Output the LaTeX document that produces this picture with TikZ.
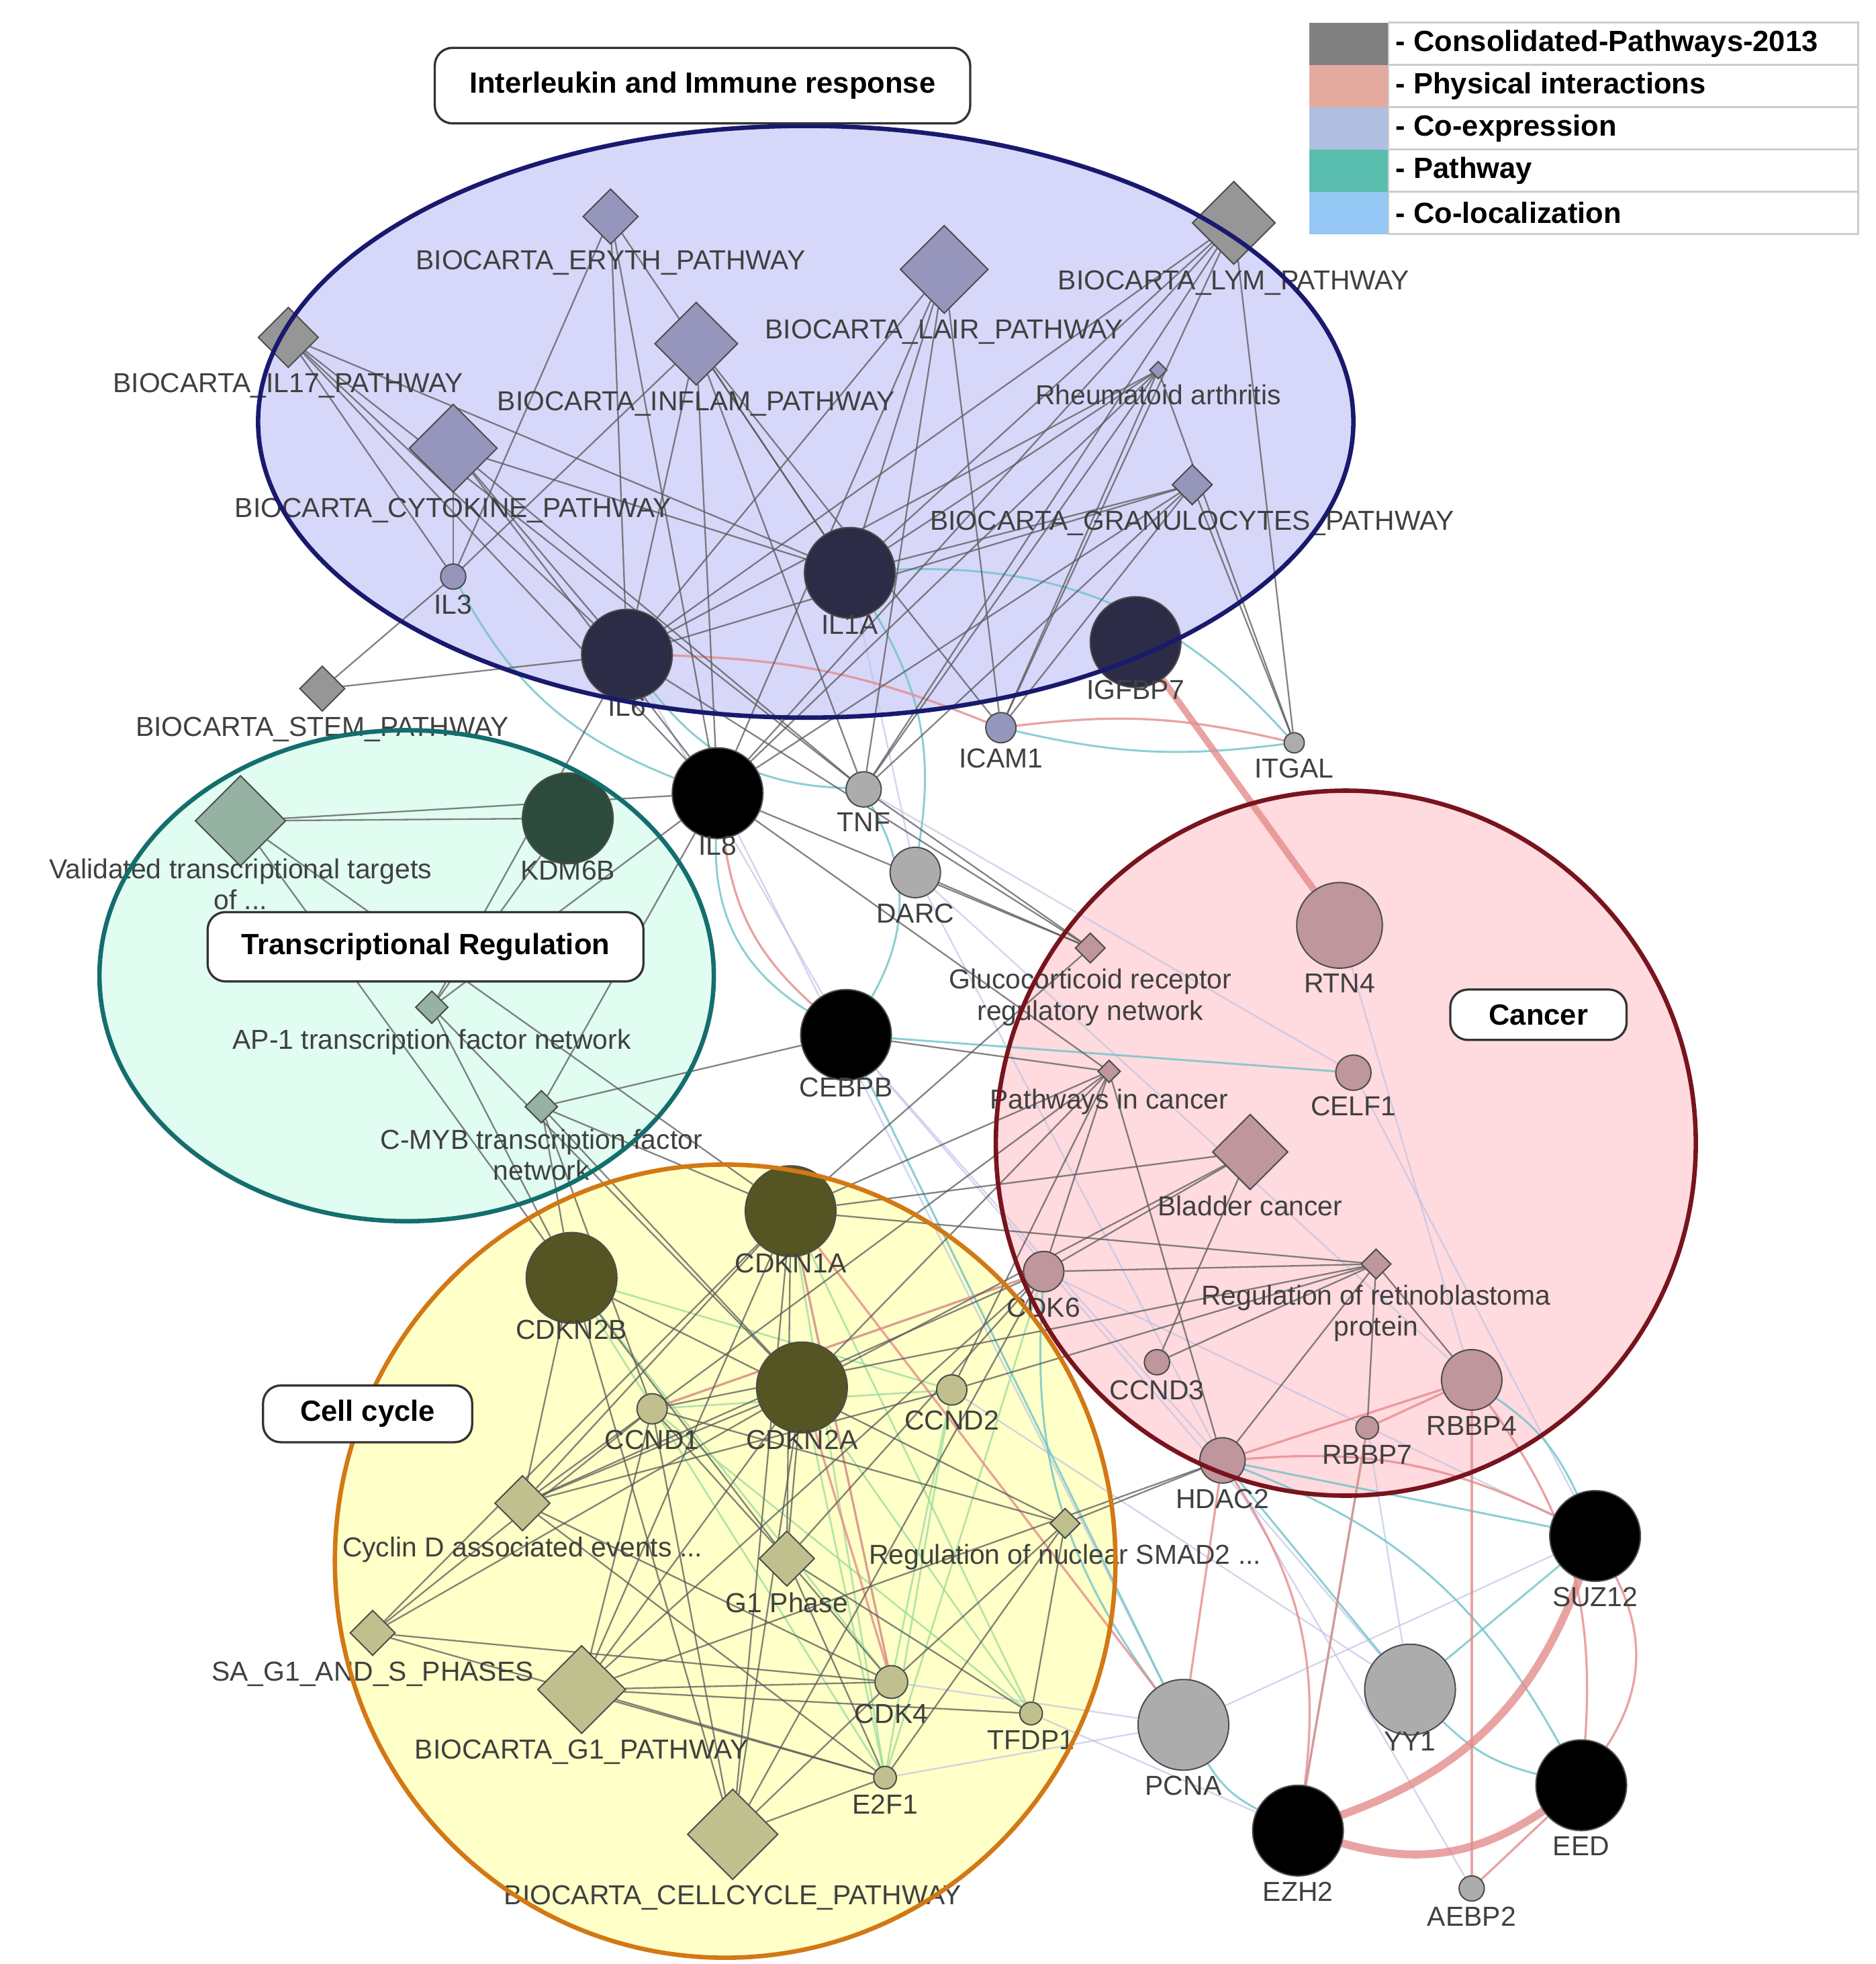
\documentclass[tikz,border=0pt]{standalone}
\usepackage{fontspec}
\setmainfont{Liberation Sans}
\usetikzlibrary{shapes.geometric}
\pgfdeclarelayer{fills}
\pgfdeclarelayer{links}
\pgfsetlayers{fills,links,main}
\definecolor{cNavy}{RGB}{44,44,70}
\definecolor{cLav}{RGB}{150,150,188}
\definecolor{cGray}{RGB}{150,150,150}
\definecolor{cLight}{RGB}{172,172,172}
\definecolor{cKdm}{RGB}{45,75,60}
\definecolor{cMint}{RGB}{150,178,162}
\definecolor{cOlive}{RGB}{85,85,35}
\definecolor{cKhaki}{RGB}{192,192,142}
\definecolor{cRose}{RGB}{190,150,155}
\definecolor{cPink}{RGB}{228,140,140}
\definecolor{cTeal}{RGB}{110,195,200}
\definecolor{cGreen}{RGB}{160,220,160}
\definecolor{cCoex}{RGB}{190,195,230}
\definecolor{lgCons}{RGB}{128,128,128}
\definecolor{lgPhys}{RGB}{228,170,160}
\definecolor{lgCoex}{RGB}{176,190,225}
\definecolor{lgPway}{RGB}{90,190,175}
\definecolor{lgColoc}{RGB}{150,200,245}
\definecolor{eImmune}{RGB}{25,25,110}
\definecolor{eTrans}{RGB}{20,110,110}
\definecolor{eCell}{RGB}{210,120,20}
\definecolor{eCancer}{RGB}{120,20,30}
\definecolor{fImmune}{RGB}{215,215,250}
\definecolor{fTrans}{RGB}{225,252,240}
\definecolor{fCell}{RGB}{255,255,200}
\definecolor{fCancer}{RGB}{255,218,222}
\newcommand{\lbl}{\fontsize{6.2}{7}\selectfont}
\tikzstyle{gene}=[circle, draw=black!70, line width=0.3pt, inner sep=0pt]
\tikzstyle{pw}=[diamond, draw=black!70, line width=0.3pt, inner sep=0pt]
\tikzstyle{tag}=[draw=black!80, fill=white, rounded corners=4pt, line width=0.5pt, font=\fontsize{6.6}{8}\bfseries\selectfont]
\providecommand{\gene}{\node[gene]}
\providecommand{\pw}{\node[pw]}
\begin{document}
\begin{tikzpicture}[x=0.01cm, y=-0.01cm,
    every label/.style={font=\lbl, text=black!75, inner sep=1pt, align=center},
    label distance=0pt,
    grey/.style={draw=black!65, line width=0.35pt, opacity=0.75},
    phys/.style={draw=cPink, line width=0.5pt, opacity=0.8},
    coloc/.style={draw=cTeal, line width=0.45pt, opacity=0.8},
    coex/.style={draw=cCoex, line width=0.35pt, opacity=0.7},
    pway/.style={draw=cGreen, line width=0.4pt, opacity=0.8}
]
\useasboundingbox (0,0) rectangle (1490,1560);
% group fills
\begin{pgfonlayer}{fills}
\fill[fImmune] (640,335) ellipse [x radius=435, y radius=235];
\fill[fTrans] (323,775) ellipse [x radius=244, y radius=195];
\fill[fCell] (576,1240) ellipse [x radius=310, y radius=315];
\fill[fCancer] (1069,908) ellipse [x radius=278, y radius=280];
\end{pgfonlayer}
% genes
\gene (IL3) at (360,458) [fill=cLav, minimum size=0.2cm, label=below:IL3] {};
\gene (IL6) at (498,520) [fill=cNavy, minimum size=0.72cm, label={[yshift=2pt]below:IL6}] {};
\gene (IL1A) at (675,455) [fill=cNavy, minimum size=0.72cm, label={[yshift=2pt]below:IL1A}] {};
\gene (IGFBP7) at (902,510) [fill=cNavy, minimum size=0.72cm, label={[yshift=3pt]below:IGFBP7}] {};
\gene (ICAM1) at (795,578) [fill=cLav, minimum size=0.24cm, label=below:ICAM1] {};
\gene (ITGAL) at (1028,590) [fill=cLight, minimum size=0.16cm, label=below:ITGAL] {};
\gene (TNF) at (686,627) [fill=cLight, minimum size=0.28cm, label=below:TNF] {};
\gene (IL8) at (570,630) [fill=black, minimum size=0.72cm, label={[yshift=2pt]below:IL8}] {};
\gene (KDM6B) at (451,650) [fill=cKdm, minimum size=0.72cm, label={[yshift=2pt]below:KDM6B}] {};
\gene (DARC) at (727,693) [fill=cLight, minimum size=0.4cm, label=below:DARC] {};
\gene (CEBPB) at (672,822) [fill=black, minimum size=0.72cm, label={[yshift=2pt]below:CEBPB}] {};
\gene (RTN4) at (1064,735) [fill=cRose, minimum size=0.68cm, label=below:RTN4] {};
\gene (CELF1) at (1075,852) [fill=cRose, minimum size=0.28cm, label=below:CELF1] {};
\gene (CDKN1A) at (628,962) [fill=cOlive, minimum size=0.72cm, label={[yshift=2pt]below:CDKN1A}] {};
\gene (CDKN2B) at (454,1015) [fill=cOlive, minimum size=0.72cm, label={[yshift=2pt]below:CDKN2B}] {};
\gene (CDK6) at (829,1010) [fill=cRose, minimum size=0.32cm, label=below:CDK6] {};
\gene (CCND3) at (919,1082) [fill=cRose, minimum size=0.2cm, label=below:CCND3] {};
\gene (CCND1) at (518,1119) [fill=cKhaki, minimum size=0.24cm, label=below:CCND1] {};
\gene (CDKN2A) at (637,1102) [fill=cOlive, minimum size=0.72cm, label={[yshift=2pt]below:CDKN2A}] {};
\gene (CCND2) at (756,1104) [fill=cKhaki, minimum size=0.24cm, label=below:CCND2] {};
\gene (HDAC2) at (971,1160) [fill=cRose, minimum size=0.36cm, label=below:HDAC2] {};
\gene (RBBP7) at (1086,1134) [fill=cRose, minimum size=0.18cm, label=below:RBBP7] {};
\gene (RBBP4) at (1169,1096) [fill=cRose, minimum size=0.48cm, label=below:RBBP4] {};
\gene (SUZ12) at (1267,1220) [fill=black, minimum size=0.72cm, label=below:SUZ12] {};
\gene (PCNA) at (940,1370) [fill=cLight, minimum size=0.72cm, label=below:PCNA] {};
\gene (YY1) at (1120,1342) [fill=cLight, minimum size=0.72cm, label={[yshift=2pt]below:YY1}] {};
\gene (EED) at (1256,1418) [fill=black, minimum size=0.72cm, label=below:EED] {};
\gene (EZH2) at (1031,1454) [fill=black, minimum size=0.72cm, label=below:EZH2] {};
\gene (AEBP2) at (1169,1500) [fill=cLight, minimum size=0.2cm, label=below:AEBP2] {};
\gene (CDK4) at (708,1336) [fill=cKhaki, minimum size=0.26cm, label=below:CDK4] {};
\gene (TFDP1) at (819,1361) [fill=cKhaki, minimum size=0.18cm, label=below:TFDP1] {};
\gene (E2F1) at (703,1412) [fill=cKhaki, minimum size=0.18cm, label=below:E2F1] {};
% pathways
\pw (eryth) at (485,172) [fill=cLav, minimum size=0.44cm, label=below:BIOCARTA\_ERYTH\_PATHWAY] {};
\pw (lair) at (750,214) [fill=cLav, minimum size=0.7cm, label=below:BIOCARTA\_LAIR\_PATHWAY] {};
\pw (lym) at (980,177) [fill=cGray, minimum size=0.66cm, label=below:BIOCARTA\_LYM\_PATHWAY] {};
\pw (il17) at (229,268) [fill=cGray, minimum size=0.48cm, label=below:BIOCARTA\_IL17\_PATHWAY] {};
\pw (inflam) at (553,273) [fill=cLav, minimum size=0.66cm, label=below:BIOCARTA\_INFLAM\_PATHWAY] {};
\pw (rheum) at (920,294) [fill=cLav, minimum size=0.14cm, label=below:Rheumatoid arthritis] {};
\pw (cytok) at (360,356) [fill=cLav, minimum size=0.7cm, label=below:BIOCARTA\_CYTOKINE\_PATHWAY] {};
\pw (granu) at (947,385) [fill=cLav, minimum size=0.32cm, label=below:BIOCARTA\_GRANULOCYTES\_PATHWAY] {};
\pw (stem) at (256,547) [fill=cGray, minimum size=0.36cm, label=below:BIOCARTA\_STEM\_PATHWAY] {};
\pw (valid) at (191,652) [fill=cMint, minimum size=0.72cm, label={[yshift=3pt]below:Validated transcriptional targets\\of ...}] {};
\pw (ap1) at (343,800) [fill=cMint, minimum size=0.26cm, label=below:AP-1 transcription factor network] {};
\pw (cmyb) at (430,879) [fill=cMint, minimum size=0.26cm, label={below:C-MYB transcription factor\\network}] {};
\pw (gluco) at (866,753) [fill=cRose, minimum size=0.24cm, label={below:Glucocorticoid receptor\\regulatory network}] {};
\pw (pcancer) at (881,851) [fill=cRose, minimum size=0.18cm, label=below:Pathways in cancer] {};
\pw (bladder) at (993,915) [fill=cRose, minimum size=0.6cm, label=below:Bladder cancer] {};
\pw (retino) at (1093,1004) [fill=cRose, minimum size=0.24cm, label={below:Regulation of retinoblastoma\\protein}] {};
\pw (cycd) at (415,1194) [fill=cKhaki, minimum size=0.44cm, label=below:Cyclin D associated events ...] {};
\pw (g1ph) at (625,1238) [fill=cKhaki, minimum size=0.44cm, label=below:G1 Phase] {};
\pw (smad) at (846,1210) [fill=cKhaki, minimum size=0.24cm, label=below:Regulation of nuclear SMAD2 ...] {};
\pw (sag1) at (296,1297) [fill=cKhaki, minimum size=0.36cm, label=below:SA\_G1\_AND\_S\_PHASES] {};
\pw (bg1) at (462,1342) [fill=cKhaki, minimum size=0.7cm, label=below:BIOCARTA\_G1\_PATHWAY] {};
\pw (bcc) at (582,1457) [fill=cKhaki, minimum size=0.72cm, label=below:BIOCARTA\_CELLCYCLE\_PATHWAY] {};
% connectors
\begin{pgfonlayer}{links}
\path[every edge/.style={coex}]
(IL6) edge (CEBPB) (IL1A) edge (DARC) (CEBPB) edge (HDAC2) (DARC) edge (RBBP4)
(TNF) edge (CELF1) (IL8) edge (PCNA) (CEBPB) edge (YY1) (DARC) edge (HDAC2)
(HDAC2) edge (AEBP2) (PCNA) edge (SUZ12) (CCND2) edge (YY1) (CDK4) edge (PCNA)
(TFDP1) edge (EZH2) (E2F1) edge (PCNA) (RBBP7) edge (YY1) (CDK6) edge (SUZ12)
(RTN4) edge (RBBP4) (CELF1) edge (SUZ12);
\path[every edge/.style={pway}]
(CDKN1A) edge (CDK4) (CDKN2A) edge (E2F1) (CCND1) edge (TFDP1) (CDKN2B) edge (CDK4)
(CDKN1A) edge (E2F1) (CCND2) edge (E2F1) (CCND1) edge (CDK6) (CDKN2A) edge (TFDP1)
(CDK4) edge (CCND2) (CDKN2B) edge (CCND2) (E2F1) edge (CDK6) (CDKN1A) edge (TFDP1)
(CCND1) edge (CCND2) (CDKN2B) edge (E2F1);
\path[every edge/.style={coloc}]
(IL6) edge[bend right=25] (TNF) (IL8) edge[bend right=30] (CEBPB) (IL1A) edge[bend left=20] (DARC)
(CEBPB) edge (CELF1) (ICAM1) edge[bend right=10] (ITGAL) (IL3) edge[bend right=20] (IL8)
(RBBP4) edge[bend left=15] (SUZ12) (YY1) edge (HDAC2) (YY1) edge[bend right=15] (EED)
(PCNA) edge[bend right=15] (EZH2) (HDAC2) edge[bend left=20] (EED) (RBBP7) edge (EZH2)
(CDK6) edge[bend right=20] (PCNA) (HDAC2) edge (SUZ12) (YY1) edge (SUZ12) (TNF) edge[bend left=30] (CEBPB)
(IL1A) edge[bend left=25] (ITGAL) (CEBPB) edge (PCNA);
\path[every edge/.style={phys}]
(IGFBP7) edge[line width=1.5pt] (RTN4) (EZH2) edge[bend right=25, line width=1.8pt] (SUZ12)
(EZH2) edge[bend right=25, line width=1.8pt] (EED) (HDAC2) edge[bend left=20] (EZH2)
(HDAC2) edge[bend left=15] (SUZ12) (RBBP4) edge[bend left=20] (EED) (HDAC2) edge (PCNA)
(RBBP7) edge (EZH2) (ICAM1) edge[bend left=10] (ITGAL) (EED) edge (AEBP2) (SUZ12) edge[bend left=30] (EED)
(RBBP4) edge (AEBP2) (CDKN1A) edge (CDK4) (CDKN2A) edge (CDK4) (CCND1) edge (CDK6)
(IL8) edge[bend right=20] (CEBPB) (RBBP4) edge (HDAC2) (RBBP7) edge (RBBP4) (CDKN1A) edge (PCNA)
(IL6) edge[bend left=10] (ICAM1);
\path[every edge/.style={grey}]
(eryth) edge (IL3) (eryth) edge (IL6) (eryth) edge (IL1A) (eryth) edge (IL8)
(lair) edge (IL6) (lair) edge (IL1A) (lair) edge (IL8) (lair) edge (ICAM1) (lair) edge (TNF)
(lym) edge (IL6) (lym) edge (IL1A) (lym) edge (ICAM1) (lym) edge (ITGAL) (lym) edge (IL8) (lym) edge (TNF)
(il17) edge (IL6) (il17) edge (IL8) (il17) edge (IL1A) (il17) edge (TNF) (il17) edge (IL3)
(inflam) edge (IL3) (inflam) edge (IL6) (inflam) edge (IL1A) (inflam) edge (IL8) (inflam) edge (TNF) (inflam) edge (ICAM1)
(rheum) edge (IL6) (rheum) edge (IL1A) (rheum) edge (IL8) (rheum) edge (TNF) (rheum) edge (ICAM1) (rheum) edge (ITGAL)
(cytok) edge (IL3) (cytok) edge (IL6) (cytok) edge (IL1A) (cytok) edge (IL8) (cytok) edge (TNF)
(granu) edge (IL6) (granu) edge (IL1A) (granu) edge (IL8) (granu) edge (TNF) (granu) edge (ICAM1) (granu) edge (ITGAL)
(stem) edge (IL3) (stem) edge (IL6)
(valid) edge (KDM6B) (valid) edge (IL8) (valid) edge (CDKN2B) (valid) edge (CDKN1A)
(ap1) edge (KDM6B) (ap1) edge (IL6) (ap1) edge (CDKN2B) (ap1) edge (CDKN2A) (ap1) edge (IL8)
(cmyb) edge (CEBPB) (cmyb) edge (CDKN1A) (cmyb) edge (CCND1) (cmyb) edge (CDKN2A) (cmyb) edge (IL8) (cmyb) edge (CDKN2B)
(gluco) edge (IL8) (gluco) edge (TNF) (gluco) edge (DARC) (gluco) edge (CDKN1A) (gluco) edge (IL6)
(pcancer) edge (CDK6) (pcancer) edge (HDAC2) (pcancer) edge (CDKN1A) (pcancer) edge (IL8) (pcancer) edge (CCND1)
(pcancer) edge (CEBPB) (pcancer) edge (CDKN2A) (pcancer) edge (CCND2)
(bladder) edge (CDKN1A) (bladder) edge (CDKN2A) (bladder) edge (CDK6) (bladder) edge (CCND3)
(retino) edge (CDK6) (retino) edge (HDAC2) (retino) edge (RBBP4) (retino) edge (CCND1) (retino) edge (CCND2)
(retino) edge (CCND3) (retino) edge (RBBP7) (retino) edge (CDKN1A)
(cycd) edge (CCND1) (cycd) edge (CDKN2A) (cycd) edge (CDK4) (cycd) edge (CDK6) (cycd) edge (CDKN1A)
(cycd) edge (CDKN2B) (cycd) edge (CCND2) (cycd) edge (E2F1)
(g1ph) edge (CCND1) (g1ph) edge (CDKN2A) (g1ph) edge (CDK4) (g1ph) edge (E2F1) (g1ph) edge (CDKN2B)
(g1ph) edge (CDKN1A) (g1ph) edge (TFDP1) (g1ph) edge (CDK6)
(smad) edge (HDAC2) (smad) edge (CDKN2B) (smad) edge (CDK4) (smad) edge (E2F1) (smad) edge (TFDP1) (smad) edge (CCND1)
(sag1) edge (CCND1) (sag1) edge (CDKN2A) (sag1) edge (CDK4) (sag1) edge (E2F1) (sag1) edge (CDKN1A)
(bg1) edge (CCND1) (bg1) edge (CDKN2A) (bg1) edge (CDK4) (bg1) edge (E2F1) (bg1) edge (TFDP1)
(bg1) edge (CDKN1A) (bg1) edge (CDK6) (bg1) edge (HDAC2)
(bcc) edge (CDK4) (bcc) edge (E2F1) (bcc) edge (CDKN2A) (bcc) edge (CDKN1A) (bcc) edge (CCND1)
(bcc) edge (CDK6) (bcc) edge (CDKN2B);
\end{pgfonlayer}
% group borders and titles
\draw[eImmune, line width=1pt] (640,335) ellipse [x radius=435, y radius=235];
\draw[eTrans, line width=1pt] (323,775) ellipse [x radius=244, y radius=195];
\draw[eCell, line width=1pt] (576,1240) ellipse [x radius=310, y radius=315];
\draw[eCancer, line width=1pt] (1069,908) ellipse [x radius=278, y radius=280];
\node[tag, minimum width=4.25cm, minimum height=0.6cm] (tImmune) at (558,68) {Interleukin and Immune response};
\node[tag, minimum width=3.46cm, minimum height=0.55cm] (tTrans) at (338,752) {Transcriptional Regulation};
\node[tag, minimum width=1.4cm, minimum height=0.4cm] (tCancer) at (1222,806) {Cancer};
\node[tag, minimum width=1.66cm, minimum height=0.42cm] (tCell) at (292,1123) {Cell cycle};
% legend
\foreach \c/\t [count=\i] in {lgCons/Consolidated-Pathways-2013, lgPhys/Physical interactions,
  lgCoex/Co-expression, lgPway/Pathway, lgColoc/Co-localization}
{
  \fill[\c] (1040,{18+(\i-1)*33.6}) rectangle (1103,{18+\i*33.6});
  \draw[black!20] (1103,{18+(\i-1)*33.6}) rectangle (1476,{18+\i*33.6});
  \node[anchor=west, inner sep=0pt, font=\fontsize{6.6}{8}\bfseries\selectfont] (leg\i) at (1108,{18+(\i-0.5)*33.6}) {- \t};
}
\end{tikzpicture}
\end{document}
